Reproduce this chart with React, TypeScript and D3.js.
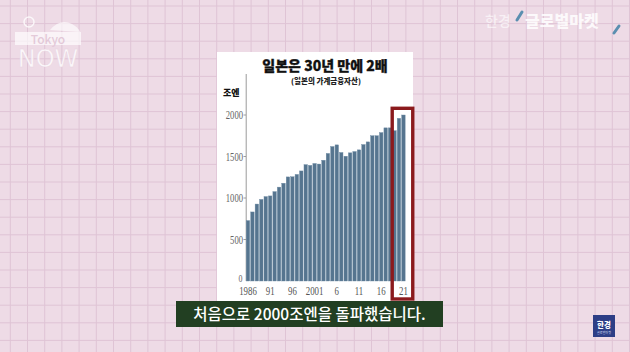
import React from "react";
import * as d3 from "d3";

const years: number[] = [
  1986, 1987, 1988, 1989, 1990, 1991, 1992, 1993, 1994, 1995, 1996, 1997,
  1998, 1999, 2000, 2001, 2002, 2003, 2004, 2005, 2006, 2007, 2008, 2009,
  2010, 2011, 2012, 2013, 2014, 2015, 2016, 2017, 2018, 2019, 2020, 2021,
];
const assets: number[] = [
  728, 832, 927, 983, 1017, 1025, 1077, 1131, 1178, 1254, 1256, 1284,
  1326, 1402, 1393, 1416, 1409, 1455, 1537, 1620, 1640, 1548, 1503, 1544,
  1560, 1580, 1644, 1676, 1750, 1750, 1788, 1845, 1845, 1811, 1960, 2000,
];
const yTicks: number[] = [0, 500, 1000, 1500, 2000];
const xTickYears: number[] = [1986, 1991, 1996, 2001, 2006, 2011, 2016, 2021];
const xTickLabels: string[] = ["1986", "91", "96", "2001", "6", "11", "16", "21"];
const highlightYears: number[] = [2019, 2020, 2021];

const title = "일본은 30년 만에 2배";
const subtitle = "(일본의 가계금융자산)";
const unitLabel = "조엔";
const caption = "처음으로 2000조엔을 돌파했습니다.";

const W = 630;
const H = 352;

export default function App() {
  const x = d3
    .scaleBand<number>()
    .domain(years)
    .range([245.8, 405.6])
    .paddingInner(0.22)
    .paddingOuter(0.1);
  const y = d3.scaleLinear().domain([0, 2000]).range([281, 115]);

  const gridV = d3.range(10.3 - 17.2, W, 17.2);
  const gridH = d3.range(6, H, 17.6);

  const hx0 = (x(highlightYears[0]) ?? 0) - 0.6;
  const hx1 = (x(highlightYears[highlightYears.length - 1]) ?? 0) + x.bandwidth() + 7.6;

  const num = "'Liberation Serif', 'DejaVu Serif', serif";
  const kr = "'Noto Sans CJK KR', 'Noto Sans', sans-serif";

  return (
    <svg
      width={W}
      height={H}
      viewBox={`0 0 ${W} ${H}`}
      style={{ position: "fixed", left: 0, top: 0, display: "block" }}
    >
      <rect x={0} y={0} width={W} height={H} fill="#eedbe6" />
      {gridV.map((gx, i) => (
        <line key={"v" + i} x1={gx} x2={gx} y1={0} y2={H} stroke="#dfc4d5" strokeWidth={1} />
      ))}
      {gridH.map((gy, i) => (
        <line key={"h" + i} x1={0} x2={W} y1={gy} y2={gy} stroke="#dfc4d5" strokeWidth={1} />
      ))}

      {/* Tokyo NOW logo */}
      <g opacity={0.8}>
        <circle cx={29} cy={22} r={5} fill="none" stroke="#fff" strokeWidth={1.5} />
        <path d="M50 30 Q60 18 72 24 Q78 27 80 32 Z" fill="#fff" opacity={0.8} />
        <rect x={15} y={32} width={66} height={13} fill="#fff" opacity={0.85} />
        <text x={48} y={43.5} textAnchor="middle" fontFamily={kr} fontSize={12} fill="#e2c6d6" fontWeight={500}>
          Tokyo
        </text>
        <text x={48} y={67} textAnchor="middle" fontFamily="'DejaVu Sans', sans-serif" fontSize={24} fill="#fff" stroke="#e8d2df" strokeWidth={0.5}>
          NOW
        </text>
      </g>

      {/* top right brand */}
      <g>
        <text x={485} y={26} fontFamily={kr} fontSize={14} fill="#fff" opacity={0.6} fontWeight={500}>
          한경
        </text>
        <line x1={517} y1={20} x2={522} y2={12} stroke="#5b8fb0" strokeWidth={3} strokeLinecap="round" />
        <text x={525} y={27} fontFamily={kr} fontSize={16} fill="#fff" opacity={0.85} fontWeight={900}>
          글로벌마켓
        </text>
        <line x1={614} y1={33} x2={619} y2={26} stroke="#5b8fb0" strokeWidth={3} strokeLinecap="round" />
      </g>

      {/* white panel */}
      <rect x={217} y={52} width={196} height={250} fill="#ffffff" />

      {/* titles */}
      <text x={325} y={70.5} textAnchor="middle" fontFamily={kr} fontSize={14} fontWeight={900} fill="#111" stroke="#111" strokeWidth={0.3}>
        {title}
      </text>
      <text x={326} y={84} textAnchor="middle" fontFamily={kr} fontSize={7.5} fontWeight={900} fill="#222">
        {subtitle}
      </text>
      <text x={223} y={96} fontFamily={kr} fontSize={9} fontWeight={900} fill="#111">
        {unitLabel}
      </text>

      {/* y axis */}
      <line x1={246.2} x2={246.2} y1={74} y2={281} stroke="#9a9a9a" strokeWidth={1} />
      {yTicks.map((t) => (
        <g key={"yt" + t}>
          {t > 0 && <line x1={243.5} x2={246} y1={y(t)} y2={y(t)} stroke="#888" strokeWidth={0.8} />}
          <g transform={`translate(${t === 0 ? 242.5 : 243} ${y(t) + (t === 0 ? 0.5 : 4)}) scale(0.72 1)`}>
            <text textAnchor="end" fontFamily={num} fontSize={t === 0 ? 11 : 12} fill="#666">
              {t}
            </text>
          </g>
        </g>
      ))}

      {/* bars */}
      {years.map((yr, i) => (
        <rect
          key={"b" + yr}
          x={x(yr)}
          y={y(assets[i])}
          width={x.bandwidth()}
          height={y(0) - y(assets[i])}
          fill="#56758f"
          stroke="#6d8aa3"
          strokeWidth={0.4}
        />
      ))}

      {/* x labels */}
      {xTickYears.map((yr, i) => (
        <g
          key={"xt" + yr}
          transform={`translate(${(x(yr) ?? 0) + x.bandwidth() / 2} 294.5) scale(0.68 1)`}
        >
          <text textAnchor="middle" fontFamily={num} fontSize={13} fill="#555">
            {xTickLabels[i]}
          </text>
        </g>
      ))}

      {/* highlight box */}
      <rect
        x={hx0}
        y={108.3}
        width={hx1 - hx0}
        height={190.7}
        fill="none"
        stroke="#8b1a1d"
        strokeWidth={3.4}
      />

      {/* caption */}
      <rect x={176} y={301} width={267} height={26} fill="#223f22" />
      <text x={309.5} y={320} textAnchor="middle" fontFamily={kr} fontSize={15.5} fontWeight={500} fill="#fff">
        {caption}
      </text>

      {/* bottom right logo */}
      <rect x={593} y={315} width={22} height={22} fill="#2d3e86" />
      <text x={604} y={328} textAnchor="middle" fontFamily={kr} fontSize={7.5} fontWeight={900} fill="#fff">
        한경
      </text>
      <text x={604} y={333.5} textAnchor="middle" fontFamily={kr} fontSize={3} fill="#cfd6f0">
        글로벌마켓
      </text>
    </svg>
  );
}
